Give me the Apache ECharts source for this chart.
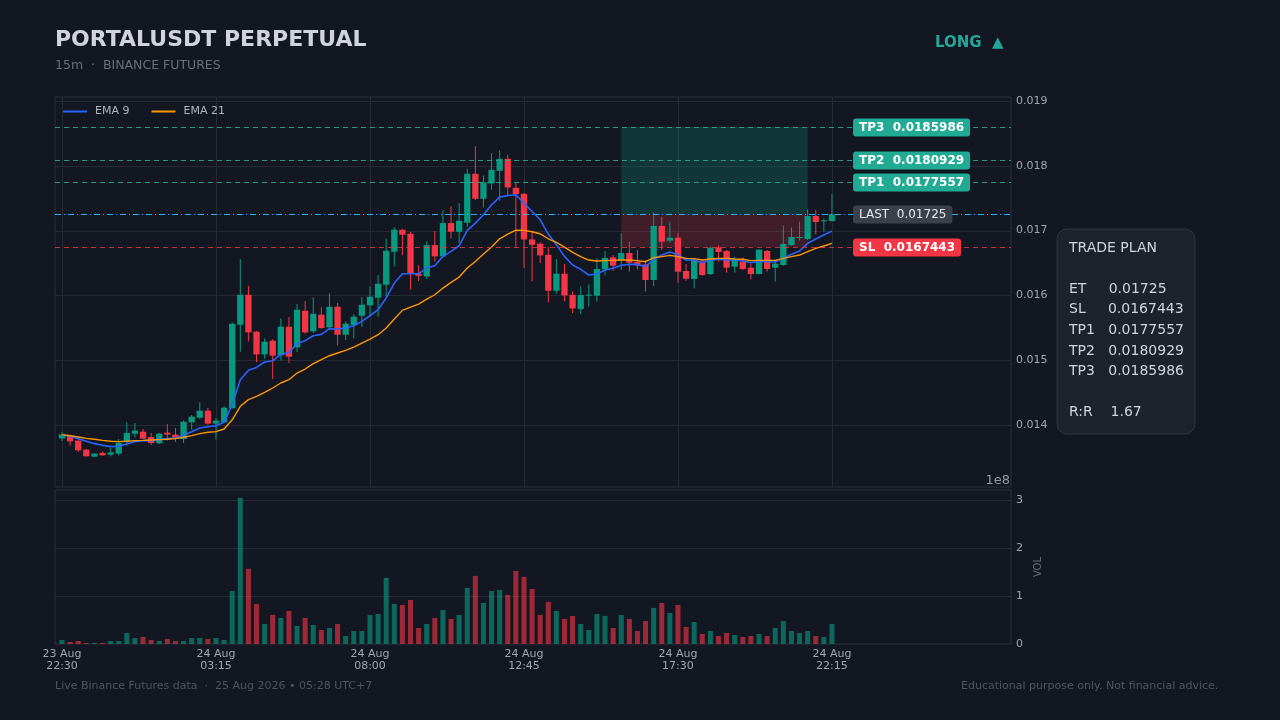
<!DOCTYPE html>
<html>
<head>
<meta charset="utf-8">
<script src="https://cdn.jsdelivr.net/npm/echarts@6/dist/echarts.min.js"></script>
<style>
html,body{margin:0;padding:0;background:#131722;}
#c{width:1280px;height:720px;}
</style>
</head>
<body>
<div id="c"></div>
<script>
// ---------- DATA (15m candles, 23 Aug 22:30 -> 24 Aug 22:15) ----------
const X_TICKS = [0, 19, 38, 57, 76, 95];
const X_TICK_LABELS = ['23 Aug\n22:30', '24 Aug\n03:15', '24 Aug\n08:00', '24 Aug\n12:45', '24 Aug\n17:30', '24 Aug\n22:15'];
const PRICE_TICKS = [0.014, 0.015, 0.016, 0.017, 0.018, 0.019];
const VOL_TICKS = [0, 1, 2, 3];

const OPEN = [0.013794,0.013835,0.013758,0.013620,0.013512,0.013568,0.013542,0.013558,0.013748,0.013866,
0.013897,0.013815,0.013717,0.013882,0.013851,0.013784,0.014041,0.014113,0.014221,0.014021,
0.014041,0.014257,0.015548,0.016010,0.015440,0.015090,0.015301,0.015075,0.015517,0.015198,
0.015763,0.015445,0.015702,0.015506,0.015825,0.015393,0.015542,0.015686,0.015846,0.015964,
0.016165,0.016674,0.017013,0.016951,0.016334,0.016293,0.016776,0.016602,0.017116,0.016982,
0.017121,0.017877,0.017491,0.017728,0.017923,0.018108,0.017661,0.017568,0.016864,0.016797,
0.016627,0.016072,0.016334,0.016010,0.015790,0.015996,0.015996,0.016402,0.016587,0.016546,
0.016654,0.016520,0.016479,0.016238,0.017071,0.016845,0.016891,0.016377,0.016253,0.016520,
0.016330,0.016742,0.016685,0.016443,0.016520,0.016428,0.016330,0.016685,0.016428,0.016469,
0.016778,0.016891,0.016870,0.017225,0.017148,0.017148];
const CLOSE = [0.013856,0.013748,0.013609,0.013517,0.013558,0.013532,0.013578,0.013722,0.013877,0.013913,
0.013789,0.013722,0.013866,0.013851,0.013799,0.014051,0.014129,0.014221,0.014021,0.014067,
0.014267,0.015563,0.016010,0.015429,0.015090,0.015285,0.015069,0.015517,0.015054,0.015779,
0.015429,0.015717,0.015496,0.015825,0.015393,0.015563,0.015671,0.015856,0.015979,0.016180,
0.016689,0.017013,0.016936,0.016334,0.016303,0.016776,0.016602,0.017116,0.016982,0.017152,
0.017877,0.017491,0.017743,0.017938,0.018108,0.017666,0.017563,0.016864,0.016781,0.016617,
0.016072,0.016334,0.016000,0.015799,0.016006,0.016011,0.016407,0.016577,0.016459,0.016654,
0.016505,0.016459,0.016238,0.017071,0.016829,0.016891,0.016366,0.016258,0.016546,0.016315,
0.016737,0.016670,0.016428,0.016557,0.016407,0.016330,0.016706,0.016407,0.016490,0.016793,
0.016901,0.016901,0.017225,0.017133,0.017158,0.017250];
const LOW = [0.013753,0.013681,0.013584,0.013512,0.013502,0.013527,0.013517,0.013527,0.013681,0.013810,
0.013784,0.013692,0.013707,0.013758,0.013738,0.013722,0.013928,0.014093,0.014005,0.013774,
0.014031,0.014257,0.015131,0.015290,0.014972,0.015023,0.014710,0.014997,0.014956,0.015126,
0.015409,0.015419,0.015486,0.015496,0.015229,0.015311,0.015337,0.015512,0.015686,0.015666,
0.015985,0.016447,0.016622,0.016087,0.016221,0.016252,0.016524,0.016591,0.016879,0.016807,
0.017054,0.017470,0.017357,0.017630,0.017460,0.017527,0.016730,0.016422,0.016216,0.016499,
0.015892,0.016026,0.015907,0.015728,0.015708,0.015826,0.015903,0.016310,0.016382,0.016392,
0.016366,0.016402,0.016058,0.016145,0.016701,0.016814,0.016196,0.016227,0.016109,0.016305,
0.016315,0.016520,0.016351,0.016351,0.016392,0.016248,0.016325,0.016366,0.016212,0.016454,
0.016767,0.016845,0.016855,0.016942,0.016984,0.017138];
const HIGH = [0.013887,0.013851,0.013775,0.013630,0.013563,0.013589,0.013645,0.013784,0.014041,0.014031,
0.013938,0.013877,0.013877,0.014015,0.013954,0.014072,0.014154,0.014350,0.014262,0.014108,
0.014288,0.015584,0.016560,0.016149,0.015450,0.015337,0.015326,0.015645,0.015666,0.015866,
0.015913,0.015969,0.015820,0.016031,0.015882,0.015599,0.015712,0.015974,0.016139,0.016314,
0.016879,0.017054,0.017023,0.016982,0.016468,0.016833,0.016992,0.017316,0.017378,0.017424,
0.017954,0.018303,0.017851,0.018195,0.018237,0.018170,0.017733,0.017578,0.016977,0.016820,
0.016746,0.016560,0.016483,0.016062,0.016135,0.016171,0.016572,0.016685,0.016623,0.016958,
0.016829,0.016701,0.016546,0.017282,0.017215,0.017138,0.016958,0.016485,0.016572,0.016546,
0.016752,0.016773,0.016701,0.016598,0.016587,0.016485,0.016711,0.016701,0.016546,0.017076,
0.017050,0.017138,0.017328,0.017318,0.017189,0.017565];
const EMA9 = [0.013846,0.013825,0.013789,0.013748,0.013712,0.013686,0.013666,0.013671,0.013707,0.013743,
0.013758,0.013758,0.013774,0.013789,0.013799,0.013841,0.013897,0.013954,0.013974,0.013990,
0.014041,0.014314,0.014699,0.014843,0.014889,0.014972,0.014992,0.015085,0.015121,0.015254,
0.015301,0.015378,0.015398,0.015486,0.015481,0.015496,0.015532,0.015599,0.015686,0.015779,
0.015959,0.016190,0.016334,0.016334,0.016334,0.016422,0.016458,0.016602,0.016679,0.016766,
0.017003,0.017116,0.017244,0.017398,0.017517,0.017542,0.017553,0.017424,0.017295,0.017167,
0.016946,0.016781,0.016602,0.016470,0.016403,0.016315,0.016330,0.016392,0.016418,0.016465,
0.016479,0.016479,0.016443,0.016557,0.016623,0.016670,0.016623,0.016546,0.016546,0.016505,
0.016546,0.016557,0.016546,0.016546,0.016536,0.016505,0.016526,0.016520,0.016515,0.016572,
0.016634,0.016685,0.016804,0.016870,0.016932,0.016994];
const EMA21 = [0.013851,0.013835,0.013815,0.013794,0.013779,0.013763,0.013748,0.013743,0.013748,0.013758,
0.013763,0.013769,0.013774,0.013779,0.013789,0.013810,0.013835,0.013866,0.013887,0.013897,
0.013938,0.014080,0.014288,0.014391,0.014442,0.014504,0.014571,0.014648,0.014699,0.014802,
0.014864,0.014946,0.015008,0.015069,0.015111,0.015152,0.015203,0.015265,0.015326,0.015393,
0.015496,0.015635,0.015769,0.015820,0.015866,0.015943,0.016010,0.016113,0.016201,0.016283,
0.016422,0.016524,0.016638,0.016746,0.016874,0.016946,0.017008,0.017003,0.016982,0.016951,
0.016874,0.016817,0.016746,0.016663,0.016598,0.016546,0.016531,0.016536,0.016541,0.016546,
0.016546,0.016536,0.016520,0.016582,0.016598,0.016618,0.016598,0.016572,0.016567,0.016546,
0.016562,0.016572,0.016572,0.016562,0.016557,0.016536,0.016541,0.016541,0.016541,0.016572,
0.016598,0.016623,0.016675,0.016726,0.016762,0.016804];
// volume, in units of 1e8
const VOLUME = [0.084,0.042,0.063,0.020,0.020,0.020,0.063,0.063,0.230,0.125,
0.146,0.084,0.063,0.104,0.063,0.063,0.125,0.125,0.104,0.125,
0.084,1.106,3.048,1.566,0.835,0.418,0.605,0.543,0.689,0.376,
0.543,0.397,0.292,0.334,0.418,0.167,0.271,0.271,0.605,0.626,
1.378,0.835,0.814,0.919,0.334,0.418,0.543,0.710,0.522,0.605,
1.169,1.420,0.856,1.106,1.127,1.023,1.524,1.399,1.148,0.605,
0.877,0.689,0.522,0.585,0.418,0.292,0.626,0.585,0.334,0.605,
0.522,0.271,0.480,0.752,0.856,0.647,0.814,0.355,0.459,0.209,
0.271,0.167,0.230,0.188,0.146,0.167,0.209,0.167,0.334,0.480,
0.271,0.230,0.271,0.167,0.146,0.418];

const LEVEL_NAMES = ['TP3', 'TP2', 'TP1', 'LAST', 'SL'];
const LEVEL_VALUES = [0.0185986, 0.0180929, 0.0177557, 0.01725, 0.0167443];
const ENTRY = 0.01725, STOP = 0.0167443, TP1 = 0.0177557, TP2 = 0.0180929, TP3 = 0.0185986;
const RR = '1.67';
const ZONE_START = 69, ZONE_END = 92;   // candle indices of the trade zone
const LABEL_AT = 97.6;                   // x (candle index units) where level tags start

// ---------- STYLE ----------
const BG = '#131722', UP = '#089981', DOWN = '#f23645';
const GRID_C = '#262a35', FRAME_C = '#2c303b';
const FONT = '"DejaVu Sans", sans-serif';
const X_MIN = -0.864, X_MAX = 117.09;
const P_MIN = 0.013043, P_MAX = 0.019062;
const V_MAX = 3.208;

const chart = echarts.init(document.getElementById('c'), null, {renderer: 'canvas'});

function gridSeries(xi, yi, hVals, vVals) {
  const data = hVals.map(v => [0, v]).concat(vVals.map(v => [1, v]));
  return {
    type: 'custom', xAxisIndex: xi, yAxisIndex: yi, z: 1, silent: true, clip: false,
    data: data,
    renderItem: function (params, api) {
      const cs = params.coordSys;
      const kind = api.value(0), v = api.value(1);
      if (kind === 0) {
        const y = Math.round(api.coord([0, v])[1]) + 0.5;
        return {type: 'line', shape: {x1: cs.x, y1: y, x2: cs.x + cs.width, y2: y}, style: {stroke: GRID_C, lineWidth: 1}};
      }
      const x = Math.round(api.coord([v, 0])[0]) + 0.5;
      return {type: 'line', shape: {x1: x, y1: cs.y, x2: x, y2: cs.y + cs.height}, style: {stroke: GRID_C, lineWidth: 1}};
    }
  };
}

const candleData = OPEN.map((o, i) => [i, o, CLOSE[i], LOW[i], HIGH[i]]);
const volData = VOLUME.map((v, i) => [i, v, CLOSE[i] >= OPEN[i] ? 1 : 0]);

const levelStyles = {
  TP3: {line: 'rgba(34,171,148,0.9)', dash: [5, 4], bg: '#22ab94', fg: '#ffffff', bold: true},
  TP2: {line: 'rgba(34,171,148,0.9)', dash: [5, 4], bg: '#22ab94', fg: '#ffffff', bold: true},
  TP1: {line: 'rgba(34,171,148,0.9)', dash: [5, 4], bg: '#22ab94', fg: '#ffffff', bold: true},
  LAST: {line: '#29b6f6', dash: [6, 3, 1, 3], bg: '#3c404b', fg: '#e6e8ee', bold: false},
  SL: {line: 'rgba(242,54,69,0.8)', dash: [5, 4], bg: '#f23645', fg: '#ffffff', bold: true}
};

const option = {
  backgroundColor: BG,
  animation: false,
  textStyle: {fontFamily: FONT},
  grid: [
    {left: 55, top: 97, width: 956, height: 390, show: true, borderColor: FRAME_C, borderWidth: 1, backgroundColor: 'transparent'},
    {left: 55, top: 490, width: 956, height: 154, show: true, borderColor: FRAME_C, borderWidth: 1, backgroundColor: 'transparent'}
  ],
  legend: {
    left: 58, top: 101, itemWidth: 24, itemHeight: 2, itemGap: 22, icon: 'rect',
    data: ['EMA 9', 'EMA 21'],
    textStyle: {color: '#b2b5be', fontSize: 11, fontFamily: FONT, padding: [0, 0, 0, 3]}
  },
  xAxis: [
    {type: 'value', gridIndex: 0, min: X_MIN, max: X_MAX, show: false, splitLine: {show: false}},
    {type: 'value', gridIndex: 1, min: X_MIN, max: X_MAX,
      axisLine: {show: false}, axisTick: {show: false}, splitLine: {show: false},
      axisLabel: {customValues: X_TICKS, color: '#a3a6af', fontSize: 11, fontFamily: FONT, margin: 4, lineHeight: 12,
        formatter: v => X_TICK_LABELS[X_TICKS.indexOf(Math.round(v))] || ''}}
  ],
  yAxis: [
    {type: 'value', gridIndex: 0, position: 'right', min: P_MIN, max: P_MAX, scale: true,
      axisLine: {show: false}, axisTick: {show: false}, splitLine: {show: false},
      axisLabel: {customValues: PRICE_TICKS, color: '#a3a6af', fontSize: 11, fontFamily: FONT, margin: 5,
        formatter: v => v.toFixed(3)}},
    {type: 'value', gridIndex: 1, position: 'right', min: 0, max: V_MAX,
      name: 'VOL', nameLocation: 'middle', nameGap: 20, nameRotate: 90,
      nameTextStyle: {color: '#6a6d78', fontSize: 10, fontFamily: FONT},
      axisLine: {show: false}, axisTick: {show: false}, splitLine: {show: false},
      axisLabel: {customValues: VOL_TICKS, color: '#a3a6af', fontSize: 11, fontFamily: FONT, margin: 5,
        formatter: v => String(Math.round(v))}}
  ],
  series: [
    gridSeries(0, 0, PRICE_TICKS, X_TICKS),
    gridSeries(1, 1, VOL_TICKS.filter(v => v > 0), []),
    { // trade zone
      type: 'custom', xAxisIndex: 0, yAxisIndex: 0, z: 2, silent: true, clip: true,
      data: [[ZONE_START, ENTRY, TP3, 0], [ZONE_START, STOP, ENTRY, 1]],
      renderItem: function (params, api) {
        const a = api.coord([ZONE_START, api.value(2)]);
        const b = api.coord([ZONE_END, api.value(1)]);
        const green = api.value(3) === 0;
        return {type: 'rect', shape: {x: a[0], y: a[1], width: b[0] - a[0], height: b[1] - a[1]},
          style: {fill: green ? 'rgba(8,153,129,0.24)' : 'rgba(242,54,69,0.2)'}};
      }
    },
    { // candles
      type: 'custom', name: 'candles', xAxisIndex: 0, yAxisIndex: 0, z: 3, clip: true,
      data: candleData, encode: {x: 0, y: [1, 2, 3, 4]},
      renderItem: function (params, api) {
        const i = api.value(0), o = api.value(1), c = api.value(2), lo = api.value(3), hi = api.value(4);
        const pO = api.coord([i, o]), pC = api.coord([i, c]);
        const pL = api.coord([i, lo]), pH = api.coord([i, hi]);
        const w = api.size([1, 0])[0] * 0.78;
        const color = c >= o ? UP : DOWN;
        const top = Math.min(pO[1], pC[1]);
        const h = Math.max(Math.abs(pO[1] - pC[1]), 1);
        return {type: 'group', children: [
          {type: 'line', shape: {x1: pO[0], y1: pH[1], x2: pO[0], y2: pL[1]}, style: {stroke: color, lineWidth: 1}},
          {type: 'rect', shape: {x: pO[0] - w / 2, y: top, width: w, height: h}, style: {fill: color}}
        ]};
      }
    },
    { // volume
      type: 'custom', name: 'volume', xAxisIndex: 1, yAxisIndex: 1, z: 3, clip: true,
      data: volData, encode: {x: 0, y: 1},
      renderItem: function (params, api) {
        const i = api.value(0), v = api.value(1);
        const p0 = api.coord([i, 0]), p1 = api.coord([i, v]);
        const w = api.size([1, 0])[0] * 0.62;
        return {type: 'rect', shape: {x: p0[0] - w / 2, y: p1[1], width: w, height: p0[1] - p1[1]},
          style: {fill: api.value(2) === 1 ? 'rgba(8,153,129,0.62)' : 'rgba(242,54,69,0.62)'}};
      }
    },
    {type: 'line', name: 'EMA 9', xAxisIndex: 0, yAxisIndex: 0, z: 4, showSymbol: false, symbol: 'none',
      data: EMA9.map((v, i) => [i, v]), lineStyle: {color: '#2962ff', width: 1.6}, itemStyle: {color: '#2962ff'}},
    {type: 'line', name: 'EMA 21', xAxisIndex: 0, yAxisIndex: 0, z: 4, showSymbol: false, symbol: 'none',
      data: EMA21.map((v, i) => [i, v]), lineStyle: {color: '#ff9800', width: 1.4}, itemStyle: {color: '#ff9800'}},
    { // levels with tags
      type: 'custom', xAxisIndex: 0, yAxisIndex: 0, z: 6, silent: true, clip: false,
      data: LEVEL_VALUES.map((v, i) => [i, v]),
      renderItem: function (params, api) {
        const cs = params.coordSys;
        const idx = api.value(0), v = api.value(1);
        const name = LEVEL_NAMES[idx];
        const st = levelStyles[name];
        const y = Math.round(api.coord([0, v])[1]) + 0.5;
        const lx = api.coord([LABEL_AT, v])[0];
        return {type: 'group', children: [
          {type: 'line', shape: {x1: cs.x, y1: y, x2: cs.x + cs.width, y2: y},
            style: {stroke: st.line, lineWidth: 1.2, lineDash: st.dash}},
          {type: 'text', x: lx, y: y, style: {
            text: name + '  ' + String(v), fill: st.fg,
            font: (st.bold ? 'bold ' : '') + '12px ' + FONT,
            align: 'left', verticalAlign: 'middle',
            backgroundColor: st.bg, padding: [3, 6, 3, 6], borderRadius: 3, lineHeight: 12
          }}
        ]};
      }
    }
  ],
  graphic: [
    {type: 'text', x: 55, y: 40, style: {text: 'PORTALUSDT PERPETUAL', fill: '#d1d4dc', font: 'bold 22px ' + FONT, verticalAlign: 'middle'}},
    {type: 'text', x: 55, y: 66, style: {text: '15m  \u00b7  BINANCE FUTURES', fill: '#6b6f7a', font: '12.5px ' + FONT, verticalAlign: 'middle'}},
    {type: 'text', x: 935, y: 43, style: {text: 'LONG  \u25b2', fill: '#26a69a', font: 'bold 15px ' + FONT, verticalAlign: 'middle'}},
    {type: 'text', x: 1010, y: 481, style: {text: '1e8', fill: '#9598a1', font: '13px ' + FONT, align: 'right', verticalAlign: 'middle'}},
    {type: 'rect', x: 1057, y: 229, shape: {width: 138, height: 205, r: 10},
      style: {fill: '#1e222d', stroke: '#30343f', lineWidth: 1}},
    {type: 'text', x: 1069, y: 237.7, style: {
      text: ['TRADE PLAN', '', 'ET     ' + ENTRY, 'SL     ' + STOP, 'TP1   ' + TP1, 'TP2   ' + TP2, 'TP3   ' + TP3, '', 'R:R    ' + RR].join('\n'),
      fill: '#d1d4dc', font: '14px ' + FONT, lineHeight: 20.6, verticalAlign: 'top'}},
    {type: 'text', x: 55, y: 686, style: {text: 'Live Binance Futures data  \u00b7  25 Aug 2026 \u2022 05:28 UTC+7', fill: '#50545f', font: '11px ' + FONT, verticalAlign: 'middle'}},
    {type: 'text', x: 961, y: 686, style: {text: 'Educational purpose only. Not financial advice.', fill: '#50545f', font: '11px ' + FONT, verticalAlign: 'middle'}}
  ]
};
chart.setOption(option);
</script>
</body>
</html>
